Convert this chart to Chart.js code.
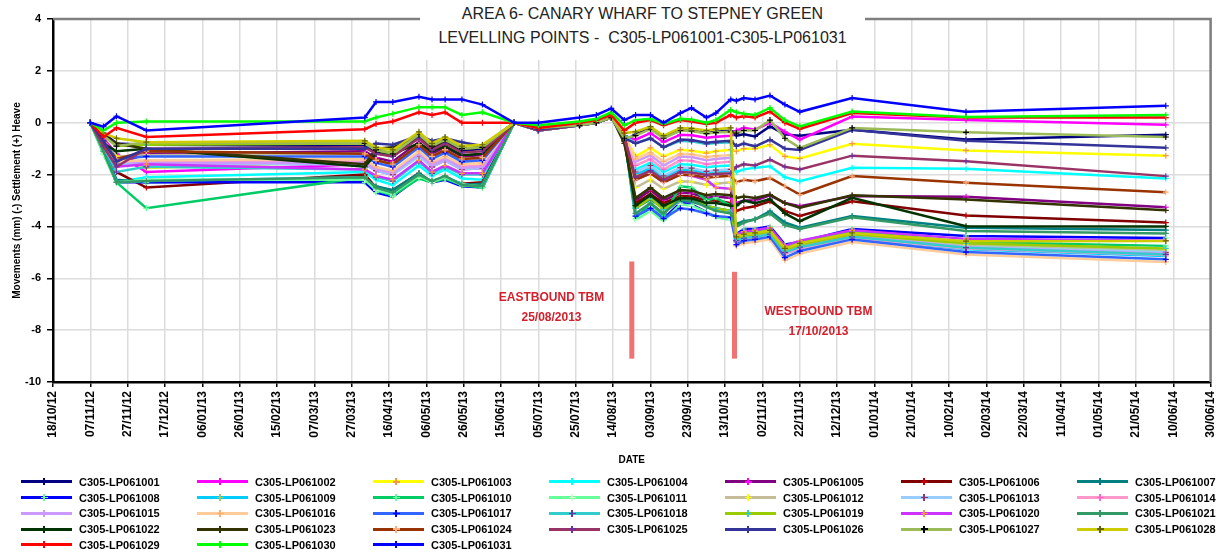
<!DOCTYPE html>
<html lang="en">
<head>
<meta charset="UTF-8">
<title>Area 6 - Canary Wharf to Stepney Green</title>
<script src="https://cdn.jsdelivr.net/npm/chart.js"></script>
<style>
  body { margin: 0; background: #fff; font-family: "Liberation Sans", Arial, sans-serif; }
  #wrap { position: relative; width: 1229px; height: 556px; }
  #titleBox { position: absolute; left: 420px; top: 0; width: 445px; height: 60px; background: #fff;
              text-align: center; font-size: 16px; color: #222; line-height: 24px; padding-top: 2px; box-sizing: border-box; }
  #legend { position: absolute; left: 21px; top: 474px; display: grid;
            grid-template-columns: repeat(7, 176px); grid-auto-rows: 15.75px; }
  .item { display: flex; align-items: center; font-size: 11px; font-weight: bold; color: #000; }
  .swatch { position: relative; width: 51px; height: 3px; margin-right: 7px; }
  .swatch i, .swatch b { position: absolute; background: currentColor; }
  .swatch i { left: 22px; top: -2px; width: 1.5px; height: 7px; }
  .swatch b { left: 19.5px; top: 0.75px; width: 7px; height: 1.5px; }
</style>
</head>
<body>
<div id="wrap">
  <canvas id="chart"></canvas>
  <div id="titleBox">AREA 6- CANARY WHARF TO STEPNEY GREEN<br>LEVELLING POINTS -&nbsp; C305-LP061001-C305-LP061031</div>
  <div id="legend"></div>
</div>
<script>
// days after 18/10/2012 for every survey
const dayOffsets = [20,27,34,50,167,173,182,196,203,210,219,230,247,260,282,291,299,306,312,320,327,336,342,350,355,363,366,370,376,384,392,400,428,489,596];

const lp1001 = [0,-0.4,-0.8,-0.85,-0.9,-1.15,-1.3,-0.55,-1.0,-0.75,-1.1,-1.0, 0,-0.2,-0.05,0.05,0.3,-0.7,-0.45, -0.2,-0.55,-0.3,-0.3,-0.4,-0.35,-0.3, -0.5,-0.45,-0.53,-0.14,-0.45,-0.5,-0.27,-0.65,-0.46];
const lp1002 = [0,-0.6,-1.2,-1.9,-1.6,-1.85,-2.0,-1.25,-1.7,-1.45,-1.8,-1.75, 0,-0.25,-0.05,0.05,0.25,-0.5,-0.65, -0.4,-0.75,-0.46,-0.48,-0.58,-0.54,-0.5, -0.3,-0.2,-0.27,0.0,-0.35,-0.65,0.24,0.1,-0.08];
const lp1003 = [0,-0.7,-1.3,-1.75,-1.5,-1.75,-1.9,-1.15,-1.6,-1.35,-1.7,-1.65, 0,-0.3,-0.1,0.0,0.25,-0.5,-1.3, -0.97,-1.3,-1.04,-1.08,-1.17,-1.1,-1.04, -1.1,-1.0,-1.0,-0.85,-1.3,-1.38,-0.81,-1.07,-1.27];
const lp1004 = [0,-1.0,-2.3,-2.1,-1.9,-2.2,-2.4,-1.65,-2.05,-1.8,-2.15,-2.2, 0,-0.3,-0.1,0.0,0.25,-0.5,-1.8, -1.55,-1.9,-1.6,-1.62,-1.72,-1.68,-1.65, -1.9,-1.8,-1.74,-1.68,-2.1,-2.26,-1.74,-1.78,-2.15];
const lp1005 = [0,-0.9,-1.6,-1.2,-1.1,-1.35,-1.5,-0.75,-1.2,-0.95,-1.3,-1.25, 0,-0.3,-0.1,0.0,0.2,-0.5,-3.0, -2.6,-3.0,-2.7,-2.72,-2.9,-2.85,-2.9, -3.1,-3.0,-3.0,-2.8,-3.1,-3.22,-2.83,-2.86,-3.26];
const lp1006 = [0,-0.9,-1.9,-2.5,-2.0,-2.5,-2.6,-1.95,-2.3,-2.15,-2.35,-2.3, 0,-0.3,-0.1,0.0,0.2,-0.5,-3.1, -2.75,-3.1,-2.83,-2.85,-3.0,-3.0,-3.1, -3.4,-3.3,-3.22,-3.03,-3.4,-3.6,-3.03,-3.58,-3.85];
const lp1007 = [0,-1.0,-2.2,-2.3,-2.2,-2.45,-2.6,-1.95,-2.3,-2.1,-2.4,-2.35, 0,-0.3,-0.1,0.0,0.25,-0.5,-3.3, -2.95,-3.3,-3.0,-3.05,-3.2,-3.3,-3.4, -3.9,-3.8,-3.73,-3.41,-3.85,-4.05,-3.6,-4.05,-4.14];
const lp1008 = [0,-1.1,-2.3,-2.3,-2.3,-2.7,-2.85,-2.1,-2.3,-2.2,-2.45,-2.5, 0,-0.3,-0.05,0.05,0.25,-0.5,-3.6, -3.3,-3.7,-3.09,-3.15,-3.45,-3.65,-3.7, -4.3,-4.1,-4.1,-4.0,-4.7,-4.6,-4.1,-4.37,-4.45];
const lp1009 = [0,-1.0,-2.3,-2.25,-2.1,-2.6,-2.8,-2.1,-2.25,-2.1,-2.35,-2.5, 0,-0.3,-0.1,0.0,0.25,-0.5,-2.0, -1.75,-2.1,-1.8,-1.82,-1.95,-1.9,-1.85, -4.6,-4.5,-4.45,-4.35,-5.05,-4.85,-4.45,-4.88,-5.14];
const lp1010 = [0,-1.2,-2.3,-3.3,-2.1,-2.6,-2.8,-2.15,-2.3,-2.15,-2.4,-2.5, 0,-0.3,-0.1,0.0,0.25,-0.5,-3.7, -3.1,-3.6,-2.45,-2.5,-3.0,-2.9,-3.2, -4.35,-4.25,-4.2,-4.1,-4.8,-4.6,-4.2,-4.6,-4.75];
const lp1011 = [0,-1.2,-2.3,-2.2,-2.2,-2.6,-2.75,-2.05,-2.3,-2.1,-2.4,-2.45, 0,-0.3,-0.1,0.0,0.25,-0.5,-3.75, -3.4,-3.8,-3.15,-3.2,-3.45,-3.65,-3.75, -4.5,-4.4,-4.35,-4.25,-4.95,-4.75,-4.35,-4.75,-4.95];
const lp1012 = [0,-0.7,-1.3,-1.25,-1.2,-1.45,-1.6,-0.85,-1.3,-1.05,-1.4,-1.35, 0,-0.25,-0.05,0.05,0.25,-0.5,-2.5, -2.2,-2.55,-2.26,-2.28,-2.4,-2.35,-2.3, -4.45,-4.35,-4.3,-4.2,-4.9,-4.7,-4.3,-4.7,-4.9];
const lp1013 = [0,-0.8,-1.6,-1.6,-1.6,-1.85,-2.0,-1.3,-1.7,-1.45,-1.8,-1.75, 0,-0.3,-0.1,0.0,0.25,-0.5,-1.9, -1.65,-2.05,-1.73,-1.75,-1.88,-1.83,-1.8, -4.55,-4.45,-4.4,-4.3,-5.0,-4.8,-4.4,-4.8,-5.0];
const lp1014 = [0,-0.8,-1.5,-1.5,-1.5,-1.75,-1.9,-1.15,-1.6,-1.35,-1.7,-1.65, 0,-0.3,-0.1,0.0,0.25,-0.5,-1.65, -1.4,-1.8,-1.45,-1.47,-1.6,-1.55,-1.5, -4.6,-4.5,-4.45,-4.35,-5.05,-4.85,-4.45,-4.85,-5.1];
const lp1015 = [0,-0.8,-1.5,-1.55,-1.55,-1.8,-1.95,-1.2,-1.65,-1.4,-1.75,-1.7, 0,-0.3,-0.1,0.0,0.25,-0.5,-1.5, -1.25,-1.65,-1.3,-1.32,-1.45,-1.4,-1.35, -4.5,-4.4,-4.35,-4.25,-4.95,-4.75,-4.35,-4.8,-5.05];
const lp1016 = [0,-0.8,-1.5,-1.45,-1.4,-1.7,-1.85,-1.1,-1.5,-1.3,-1.6,-1.55, 0,-0.3,-0.1,0.0,0.25,-0.5,-1.4, -1.15,-1.5,-1.2,-1.22,-1.32,-1.28,-1.25, -4.75,-4.65,-4.6,-4.5,-5.3,-5.05,-4.6,-5.08,-5.37];
const lp1017 = [0,-0.7,-1.4,-1.3,-1.3,-1.55,-1.7,-0.95,-1.4,-1.15,-1.5,-1.45, 0,-0.3,-0.1,0.0,0.25,-0.5,-3.6, -3.3,-3.7,-3.3,-3.35,-3.5,-3.6,-3.65, -4.7,-4.55,-4.5,-4.4,-5.2,-4.95,-4.5,-4.99,-5.27];
const lp1018 = [0,-0.9,-1.9,-1.7,-1.8,-2.1,-2.25,-1.5,-1.95,-1.7,-2.0,-2.0, 0,-0.25,-0.05,0.05,0.25,-0.5,-0.8, -0.6,-0.95,-0.7,-0.72,-0.82,-0.78,-0.75, -4.55,-4.45,-4.4,-4.3,-5.0,-4.8,-4.4,-4.82,-5.08];
const lp1019 = [0,-0.5,-0.9,-0.85,-0.8,-1.05,-1.15,-0.45,-0.9,-0.65,-1.0,-0.95, 0,-0.25,-0.05,0.05,0.25,-0.5,-3.3, -2.9,-3.35,-2.9,-2.95,-3.2,-3.3,-3.4, -4.45,-4.35,-4.3,-4.2,-4.9,-4.7,-4.3,-4.65,-4.85];
const lp1020 = [0,-0.9,-1.7,-1.6,-1.8,-2.05,-2.2,-1.45,-1.9,-1.65,-1.95,-1.95, 0,-0.25,-0.05,0.05,0.25,-0.5,-2.2, -1.95,-2.3,-2.0,-2.05,-2.2,-2.5,-2.55, -4.3,-4.2,-4.15,-4.05,-4.75,-4.55,-4.15,-4.48,-4.55];
const lp1021 = [0,-1.1,-2.3,-2.25,-2.1,-2.5,-2.7,-2.0,-2.25,-2.05,-2.4,-2.45, 0,-0.3,-0.1,0.0,0.2,-0.5,-3.5, -3.1,-3.5,-2.96,-3.0,-3.25,-3.4,-3.5, -4.0,-3.85,-3.73,-3.5,-3.95,-4.1,-3.65,-4.18,-4.27];
const lp1022 = [0,-0.8,-1.1,-1.0,-1.7,-1.2,-1.2,-0.8,-1.1,-0.9,-1.25,-1.2, 0,-0.2,-0.05,0.05,0.25,-0.7,-3.2, -2.8,-3.2,-2.9,-2.92,-3.1,-3.1,-3.2, -3.2,-3.0,-3.1,-2.95,-3.5,-3.8,-2.9,-3.99,-4.0];
const lp1023 = [0,-0.5,-0.8,-1.0,-1.6,-1.0,-0.95,-0.55,-0.9,-0.7,-1.0,-0.95, 0,-0.2,-0.05,0.05,0.25,-0.8,-2.9, -2.5,-2.9,-2.6,-2.62,-2.8,-2.75,-2.8, -2.9,-2.85,-2.9,-2.77,-3.1,-3.28,-2.8,-2.96,-3.38];
const lp1024 = [0,-0.8,-1.4,-1.1,-1.2,-1.45,-1.6,-0.85,-1.3,-1.05,-1.4,-1.35, 0,-0.25,-0.05,0.05,0.25,-0.6,-2.2, -1.95,-2.3,-2.0,-2.02,-2.12,-2.08,-2.05, -2.3,-2.2,-2.26,-2.13,-2.45,-2.77,-2.06,-2.32,-2.68];
const lp1025 = [0,-0.9,-1.7,-1.0,-0.95,-1.2,-1.3,-0.6,-1.05,-0.8,-1.15,-1.1, 0,-0.3,-0.1,0.0,0.2,-0.6,-2.1, -1.85,-2.2,-1.9,-1.92,-2.02,-1.98,-1.95, -1.7,-1.6,-1.65,-1.42,-1.7,-1.8,-1.27,-1.49,-2.06];
const lp1026 = [0,-0.7,-1.5,-1.0,-1.0,-0.8,-0.85,-0.5,-0.7,-0.6,-0.75,-0.9, 0,-0.25,-0.1,0.0,0.2,-0.6,-0.8, -0.6,-0.95,-0.65,-0.67,-0.77,-0.73,-0.7, -0.9,-0.8,-0.91,-0.65,-1.0,-1.05,-0.27,-0.7,-0.97];
const lp1027 = [0,-0.5,-0.9,-0.75,-0.8,-1.05,-1.2,-0.45,-0.9,-0.65,-1.0,-0.95, 0,-0.2,-0.1,0.0,0.2,-0.6,-0.5, -0.25,-0.6,-0.3,-0.32,-0.42,-0.38,-0.35, -0.4,-0.3,-0.3,0.1,-0.6,-0.97,-0.2,-0.37,-0.55];
const lp1028 = [0,-0.4,-0.6,-0.75,-0.7,-0.95,-1.05,-0.35,-0.8,-0.55,-0.9,-0.85, 0,-0.2,0.0,0.1,0.3,-0.4,-0.35, -0.15,-0.5,-0.2,-0.22,-0.3,-0.25,-0.2, -4.4,-4.3,-4.25,-4.15,-4.85,-4.65,-4.25,-4.57,-4.56];
const lp1029 = [0,-0.55,-0.2,-0.55,-0.25,-0.05,0.05,0.4,0.3,0.4,0.0,0.0, 0,-0.2,0.0,0.1,0.3,-0.3,0.0, 0.1,-0.1,0.1,0.05,-0.05,0.0,0.3, 0.2,0.25,0.2,0.43,0.0,-0.24,0.37,0.2,0.2];
const lp1030 = [0,-0.3,0.0,0.05,0.05,0.2,0.35,0.6,0.6,0.6,0.3,0.4, 0,-0.1,0.05,0.15,0.4,-0.1,0.1, 0.15,-0.05,0.15,0.12,0.0,0.1,0.5, 0.4,0.35,0.3,0.57,0.1,-0.14,0.43,0.22,0.3];
const lp1031 = [0,-0.15,0.25,-0.3,0.2,0.8,0.8,1.0,0.9,0.9,0.9,0.7, 0,0.0,0.2,0.3,0.55,0.1,0.3, 0.3,0.0,0.37,0.57,0.2,0.37,0.9, 0.85,0.95,0.9,1.05,0.7,0.42,0.95,0.42,0.65];

const seriesNames = ['C305-LP061001','C305-LP061002','C305-LP061003','C305-LP061004','C305-LP061005','C305-LP061006','C305-LP061007',
  'C305-LP061008','C305-LP061009','C305-LP061010','C305-LP061011','C305-LP061012','C305-LP061013','C305-LP061014',
  'C305-LP061015','C305-LP061016','C305-LP061017','C305-LP061018','C305-LP061019','C305-LP061020','C305-LP061021',
  'C305-LP061022','C305-LP061023','C305-LP061024','C305-LP061025','C305-LP061026','C305-LP061027','C305-LP061028',
  'C305-LP061029','C305-LP061030','C305-LP061031'];
const seriesValues = [lp1001,lp1002,lp1003,lp1004,lp1005,lp1006,lp1007,lp1008,lp1009,lp1010,lp1011,lp1012,lp1013,lp1014,
  lp1015,lp1016,lp1017,lp1018,lp1019,lp1020,lp1021,lp1022,lp1023,lp1024,lp1025,lp1026,lp1027,lp1028,lp1029,lp1030,lp1031];
const lineColors = ['#000080','#FF00FF','#FFFF00','#00FFFF','#800080','#800000','#008080',
  '#0000FF','#00CCFF','#00CC66','#66FF99','#C4BD97','#99CCFF','#FF99CC',
  '#CC99FF','#FFCC99','#3366FF','#33CCCC','#99CC00','#CC33FF','#339966',
  '#003300','#333300','#993300','#993366','#333399','#9BBB59','#CCCC00',
  '#FF0000','#00FF00','#0000FF'];
const markerColors = ['#000080','#FF00FF','#F79646','#00FFFF','#FF00FF','#C00000','#008080',
  '#66FF99','#99CC66','#66FF99','#CCFFCC','#FFFF00','#993366','#FF66CC',
  '#CC99FF','#FFB070','#0000FF','#7030A0','#33CCCC','#F79646','#339966',
  '#003300','#333300','#FFB080','#7030A0','#333399','#000000','#666600',
  '#FF0000','#00FF00','#0000FF'];

// tunnel boring machine passes
const tbmEvents = [
  { day: 310, top: -5.35, bottom: -9.1, textDay: 267, textVal: -6.73, lines: ['EASTBOUND TBM', '25/08/2013'] },
  { day: 365, top: -5.75, bottom: -9.1, textDay: 410, textVal: -7.3, lines: ['WESTBOUND TBM', '17/10/2013'] }
];

const baseDate = Date.UTC(2012, 9, 18);
function dayLabel(d) {
  const t = new Date(baseDate + d * 86400000);
  const p = n => String(n).padStart(2, '0');
  return p(t.getUTCDate()) + '/' + p(t.getUTCMonth() + 1) + '/' + p(t.getUTCFullYear() % 100);
}

const datasets = seriesValues.map((vals, i) => ({
  label: seriesNames[i],
  data: vals.map((v, k) => ({ x: dayOffsets[k], y: v })),
  borderColor: lineColors[i],
  backgroundColor: lineColors[i],
  borderWidth: 2.5,
  pointStyle: 'cross',
  pointRadius: 3,
  pointBorderWidth: 1.2,
  pointBorderColor: markerColors[i],
  tension: 0,
  order: seriesValues.length - i
}));

const frame = {
  id: 'frame',
  beforeDatasetsDraw(chart) {
    const { ctx, chartArea: a } = chart;
    ctx.save();
    ctx.strokeStyle = '#7f7f7f';
    ctx.lineWidth = 2.5;
    ctx.beginPath();
    ctx.moveTo(a.left, a.top);
    ctx.lineTo(a.right, a.top);
    ctx.lineTo(a.right, a.bottom);
    ctx.stroke();
    ctx.restore();
  },
  afterDatasetsDraw(chart) {
    const { ctx, scales: { x, y } } = chart;
    ctx.save();
    tbmEvents.forEach(ev => {
      const px = x.getPixelForValue(ev.day);
      ctx.strokeStyle = '#F07373';
      ctx.lineWidth = 5;
      ctx.beginPath();
      ctx.moveTo(px, y.getPixelForValue(ev.top));
      ctx.lineTo(px, y.getPixelForValue(ev.bottom));
      ctx.stroke();
      ctx.fillStyle = '#D41F2C';
      ctx.font = 'bold 12px "Liberation Sans", Arial, sans-serif';
      ctx.textAlign = 'center';
      ctx.textBaseline = 'middle';
      const tx = x.getPixelForValue(ev.textDay);
      const ty = y.getPixelForValue(ev.textVal);
      ev.lines.forEach((s, j) => ctx.fillText(s, tx, ty + j * 20));
    });
    ctx.restore();
  }
};

const fam = '"Liberation Sans", Arial, sans-serif';

new Chart(document.getElementById('chart'), {
  type: 'line',
  data: { datasets: datasets },
  options: {
    responsive: true,
    maintainAspectRatio: false,
    animation: false,
    layout: { padding: { left: 0, right: 7, top: 19, bottom: 90 } },
    plugins: { legend: { display: false }, tooltip: { enabled: false } },
    scales: {
      x: {
        type: 'linear',
        min: 0,
        max: 620,
        afterFit(scale) { scale.height = 84; },
        ticks: { stepSize: 20, autoSkip: false, maxRotation: 90, minRotation: 90, color: '#000',
                 font: { family: fam, size: 12, weight: 'bold' }, padding: 4,
                 callback: v => dayLabel(v) },
        grid: { color: '#dcdcdc', lineWidth: 1.5, tickColor: '#000', tickLength: 5 },
        border: { color: '#000', width: 2.5 },
        title: { display: true, text: 'DATE', color: '#000', padding: { top: 0, bottom: 0 },
                 font: { family: fam, size: 10, weight: 'bold' } }
      },
      y: {
        min: -10,
        max: 4,
        afterFit(scale) { scale.width = 53; },
        ticks: { stepSize: 2, color: '#000', font: { family: fam, size: 11, weight: 'bold' }, padding: 6 },
        grid: { color: '#dcdcdc', lineWidth: 1.5, tickColor: '#000', tickLength: 6 },
        border: { color: '#000', width: 2.5 },
        title: { display: true, text: 'Movements (mm) (-) Settlement (+) Heave', color: '#000', padding: { top: 11, bottom: 0 },
                 font: { family: fam, size: 10, weight: 'bold' } }
      }
    }
  },
  plugins: [frame]
});

// legend laid out as a 7-column grid like the original sheet
const legendEl = document.getElementById('legend');
seriesNames.forEach((name, i) => {
  const item = document.createElement('div');
  item.className = 'item';
  const sw = document.createElement('span');
  sw.className = 'swatch';
  sw.style.background = lineColors[i];
  sw.style.color = markerColors[i];
  sw.innerHTML = '<i></i><b></b>';
  item.appendChild(sw);
  item.appendChild(document.createTextNode(name));
  legendEl.appendChild(item);
});
</script>
</body>
</html>
